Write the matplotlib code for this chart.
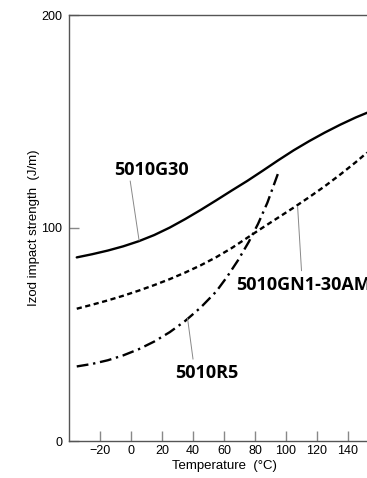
import numpy as np
import matplotlib.pyplot as plt

# values
temp_g30 = [-35, -25, -15, -5, 5, 15, 25, 35, 45, 55, 65, 75, 85, 95, 105, 115, 125, 135, 145, 152.3]
izod_g30 = [86.2, 87.7, 89.4, 91.4, 93.8, 96.7, 100.2, 104.2, 108.5, 113.0, 117.6, 122.1, 126.9, 131.8, 136.5, 140.8, 144.8, 148.5, 151.9, 154.1]

temp_gn1 = [-35, -25, -15, -5, 5, 15, 25, 35, 45, 55, 65, 75, 85, 95, 105, 115, 125, 135, 145, 152.3]
izod_gn1 = [62.1, 64.0, 66.0, 68.2, 70.6, 73.2, 76.0, 79.1, 82.5, 86.3, 90.6, 95.4, 100.2, 104.9, 109.6, 114.5, 119.6, 125.1, 130.9, 135.4]

temp_r5 = [-35, -25, -15, -5, 5, 15, 25, 35, 45, 55, 62, 69, 76, 82, 88, 95.5]
izod_r5 = [35.0, 36.2, 37.9, 40.2, 43.1, 46.7, 51.1, 56.4, 62.7, 70.2, 77.1, 84.8, 93.5, 102.0, 111.9, 126.9]

xticks = [-20, 0, 20, 40, 60, 80, 100, 120, 140]
yticks = [0, 100, 200]

plt.rcParams['font.family'] = ['Liberation Sans Narrow', 'Liberation Sans', 'DejaVu Sans']

fig = plt.figure(figsize=(3.67, 4.78), dpi=100)
ax = fig.add_axes([69 / 367, 37 / 478, 310 / 367, 426 / 478])

ax.plot(temp_g30, izod_g30, color='black', lw=1.7, solid_capstyle='round', solid_joinstyle='round')
ax.plot(temp_gn1, izod_gn1, color='black', lw=1.7, dashes=(2.2, 1.5))
ax.plot(temp_r5, izod_r5, color='black', lw=1.7, dashes=(5, 2, 1, 2))

ax.set_xlim(-40, 160)
ax.set_ylim(0, 200)
ax.set_xticks(xticks)
ax.set_yticks(yticks)
ax.tick_params(direction='in', length=7, width=1.0, colors='#888888', labelcolor='black', labelsize=9)
ax.tick_params(axis='y', pad=5)
ax.tick_params(axis='x', pad=3)
for s in ['left', 'bottom', 'top', 'right']:
    ax.spines[s].set_color('#555555')
    ax.spines[s].set_linewidth(1.0)

ax.set_xlabel('Temperature  (°C)', fontsize=9.5, labelpad=2)
ax.set_ylabel('Izod impact strength  (J/m)', fontsize=9.5)
ax.yaxis.set_label_coords(-0.095, 0.5)

lab = dict(fontsize=13, fontweight='bold', family=['Open Sans', 'DejaVu Sans'])
ax.text(13.5, 127, '5010G30', ha='center', va='center', **lab)
ax.plot([-0.5, 5.2], [122, 94.2], color='#888888', lw=0.7)

ax.text(68, 73.2, '5010GN1-30AM', ha='left', va='center', **lab)
ax.plot([107.5, 110], [110, 80], color='#888888', lw=0.7)

ax.text(28.4, 32, '5010R5', ha='left', va='center', **lab)
ax.plot([36.5, 40], [57.5, 38.5], color='#888888', lw=0.7)

fig.savefig('out.png', dpi=100)
